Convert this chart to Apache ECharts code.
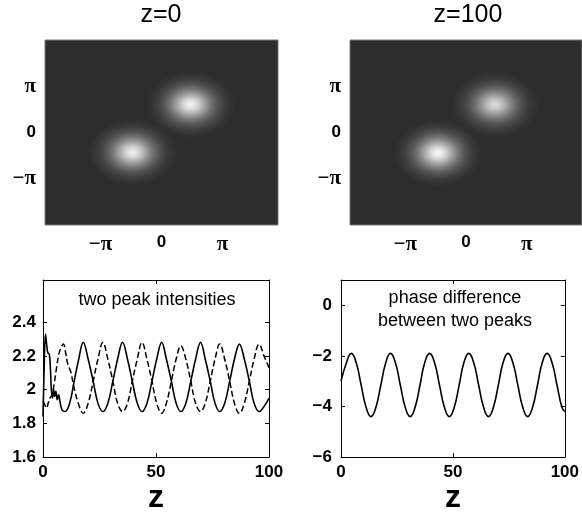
<!DOCTYPE html>
<html>
<head>
<meta charset="utf-8">
<title>two peaks</title>
<script src="https://cdn.jsdelivr.net/npm/echarts@6/dist/echarts.min.js"></script>
<style>
    html, body {margin: 0; padding: 0; background: #fff;}
    #main {width: 582px; height: 515px;}
</style>
</head>
<body>
<div id="main"></div>
<script>
var panelTitles = ['z=0', 'z=100'];
var piTicks = [-Math.PI, 0, Math.PI];
var piLabels = ['\u2212\u03c0', '0', '\u03c0'];

// blob centres: [x, y, brightness]
var blobsZ0 = [[1.5, 1.9, 0.95], [-1.5, -1.35, 0.93]];
var blobsZ100 = [[1.5, 1.9, 0.85], [-1.45, -1.4, 0.97]];

var zTicks = [0, 50, 100];
var intensityTicks = [1.6, 1.8, 2, 2.2, 2.4];
var phaseTicks = [-6, -4, -2, 0];

// solid curve
var peak1 = [
    [0, 1.84], [0.5, 2.12], [1.1, 2.33], [1.6, 2.27], [2.1, 2.22], [2.8, 2.21], [3.3, 2.12], [3.7, 2.0],
    [4.2, 1.95], [4.7, 2.0], [5.2, 1.96], [5.7, 1.99], [6.3, 1.94], [6.9, 1.97], [7.5, 1.93], [8.4, 1.88],
    [9.8, 1.87], [11.8, 1.92], [13.8, 2.05], [15.8, 2.18], [17.8, 2.28], [20.0, 2.18], [22.2, 2.05],
    [24.3, 1.92], [26.5, 1.87], [28.7, 1.92], [30.9, 2.05], [33.0, 2.18], [35.2, 2.28], [37.4, 2.18],
    [39.5, 2.05], [41.7, 1.92], [43.8, 1.87], [46.0, 1.92], [48.2, 2.05], [50.3, 2.18], [52.5, 2.28],
    [54.6, 2.18], [56.8, 2.05], [58.9, 1.92], [61.0, 1.87], [63.2, 1.92], [65.4, 2.05], [67.5, 2.18],
    [69.7, 2.28], [71.8, 2.18], [74.0, 2.05], [76.1, 1.92], [78.2, 1.87], [80.4, 1.92], [82.6, 2.05],
    [84.7, 2.18], [86.9, 2.27], [89.1, 2.18], [91.3, 2.05], [93.4, 1.92], [95.6, 1.87], [97.8, 1.90],
    [100, 1.95]
];

// dashed curve
var peak2 = [
    [0, 1.93], [0.8, 1.91], [1.5, 1.89], [2.3, 1.92], [3.1, 1.95], [4.0, 1.97], [5.0, 2.04], [6.0, 2.13],
    [7.0, 2.21], [8.0, 2.25], [9.0, 2.27], [10.0, 2.22], [10.8, 2.16], [11.6, 2.13], [12.4, 2.1],
    [13.6, 2.02], [15.6, 1.92], [17.8, 1.86], [20.0, 1.92], [22.2, 2.05], [24.3, 2.18], [26.5, 2.28],
    [28.7, 2.18], [30.9, 2.05], [33.0, 1.92], [35.2, 1.87], [37.4, 1.92], [39.5, 2.05], [41.7, 2.18],
    [43.8, 2.28], [46.0, 2.18], [48.2, 2.05], [50.3, 1.92], [52.5, 1.86], [54.6, 1.92], [56.8, 2.05],
    [58.9, 2.18], [61.0, 2.26], [63.2, 2.18], [65.4, 2.05], [67.5, 1.92], [69.7, 1.87], [71.8, 1.92],
    [74.0, 2.05], [76.1, 2.18], [78.2, 2.27], [80.4, 2.18], [82.6, 2.05], [84.7, 1.92], [86.9, 1.86],
    [89.1, 1.92], [91.3, 2.05], [93.4, 2.18], [95.6, 2.27], [97.8, 2.2], [100, 2.13]
];

var phaseDiff = [
    [0, -3.0], [2.4, -2.28], [4.6, -1.9], [6.8, -2.27], [9.0, -3.15], [11.2, -4.03], [13.4, -4.4],
    [15.6, -4.03], [17.8, -3.15], [20.0, -2.27], [22.1, -1.9], [24.3, -2.27], [26.5, -3.15], [28.7, -4.03],
    [30.9, -4.4], [33.1, -4.03], [35.3, -3.15], [37.4, -2.27], [39.6, -1.9], [41.8, -2.27], [44.0, -3.15],
    [46.2, -4.03], [48.4, -4.4], [50.6, -4.03], [52.8, -3.15], [54.9, -2.27], [57.1, -1.9], [59.3, -2.27],
    [61.5, -3.15], [63.7, -4.03], [65.9, -4.4], [68.1, -4.03], [70.3, -3.15], [72.4, -2.27], [74.6, -1.9],
    [76.8, -2.27], [79.0, -3.15], [81.2, -4.03], [83.4, -4.4], [85.6, -4.03], [87.8, -3.15], [89.9, -2.27],
    [92.1, -1.9], [94.3, -2.27], [96.5, -3.15], [98.7, -4.03], [100, -4.2]
];

var sans = '"Liberation Sans", Arial, sans-serif';
var blobRadius = 2.3;
var glow = [[0, 1], [0.07, 0.96], [0.18, 0.82], [0.32, 0.58], [0.46, 0.36], [0.6, 0.2], [0.75, 0.09], [0.88, 0.03], [1, 0]];

var blobGradient = function (b) {
    var l = Math.round(255 * b);
    var stops = [];
    for (var i = 0; i < glow.length; i++) {
        stops.push({offset: glow[i][0], color: 'rgba(' + l + ',' + l + ',' + l + ',' + glow[i][1] + ')'});
    }
    return new echarts.graphic.RadialGradient(0.5, 0.5, 0.5, stops);
};

var renderBlob = function (params, api) {
    var c = api.coord([api.value(0), api.value(1)]);
    var s = api.size([blobRadius * 2, blobRadius * 2]);
    return {
        type: 'circle',
        x: c[0],
        y: c[1],
        scaleY: s[1] / s[0],
        shape: {cx: 0, cy: 0, r: s[0] / 2},
        style: {fill: blobGradient(api.value(2))}
    };
};

var piFormatter = function (v) {
    var best = 0;
    for (var i = 0; i < piTicks.length; i++) {
        if (Math.abs(piTicks[i] - v) < Math.abs(piTicks[best] - v)) best = i;
    }
    return best == 1 ? piLabels[best] : '{p|' + piLabels[best] + '}';
};

var piAxis = function (idx, isX) {
    return {
        type: 'value', gridIndex: idx,
        min: isX ? -6 : -6.3, max: isX ? 6 : 6.3,
        axisLine: {show: false}, axisTick: {show: false}, splitLine: {show: false},
        axisLabel: {
            customValues: piTicks, formatter: piFormatter, margin: isX ? 9 : 9,
            color: '#000', fontFamily: sans, fontWeight: 'bold', fontSize: 17,
            rich: {p: {fontFamily: '"Liberation Serif", serif', fontWeight: 'bold', fontSize: 21, color: '#000'}}
        }
    };
};

var boxLine = {show: true, onZero: false, lineStyle: {color: '#000', width: 1}};
var labelStyle = {color: '#000', fontFamily: sans, fontWeight: 'bold', fontSize: 17};

var zAxis = function (idx, top) {
    var ax = {
        type: 'value', gridIndex: idx, min: 0, max: 100, interval: 50,
        position: top ? 'top' : 'bottom',
        axisLine: boxLine,
        axisTick: {inside: true, length: 4, lineStyle: {color: '#000'}},
        splitLine: {show: false},
        axisLabel: top ? {show: false} : Object.assign({margin: 7}, labelStyle)
    };
    if (!top) {
        ax.name = 'z';
        ax.nameLocation = 'middle';
        ax.nameGap = 18;
        ax.nameTextStyle = {color: '#000', fontFamily: sans, fontWeight: 'bold', fontSize: 32};
    }
    return ax;
};

var valAxis = function (idx, right, min, max, ticks, margin) {
    return {
        type: 'value', gridIndex: idx, min: min, max: max,
        position: right ? 'right' : 'left',
        axisLine: boxLine,
        axisTick: {inside: true, length: 4, customValues: ticks, lineStyle: {color: '#000'}},
        splitLine: {show: false},
        axisLabel: right ? {show: false} : Object.assign({
            margin: margin, customValues: ticks,
            formatter: function (v) { return String(+v.toFixed(2)).replace('-', '\u2212'); }
        }, labelStyle)
    };
};

var titleText = function (x, y, text, size, lh) {
    return {
        type: 'text', x: x, y: y,
        style: {
            text: text, fill: '#000', font: size + 'px ' + sans, lineHeight: lh || size,
            align: 'center', verticalAlign: 'middle', textAlign: 'center', textVerticalAlign: 'middle'
        }
    };
};

var chart = echarts.init(document.getElementById('main'), null, {renderer: 'canvas'});

var option = {
    backgroundColor: '#fff',
    animation: false,
    graphic: [
        titleText(161, 15, panelTitles[0], 25),
        titleText(468, 15, panelTitles[1], 25),
        titleText(157, 300, 'two peak intensities', 18),
        titleText(455, 310, 'phase difference\nbetween two peaks', 18, 23)
    ],
    grid: [
        {left: 45, top: 40, width: 233, height: 185, show: true, backgroundColor: '#2d2d2d', borderColor: '#7a7a7a', borderWidth: 1},
        {left: 350, top: 40, width: 234, height: 185, show: true, backgroundColor: '#2d2d2d', borderColor: '#7a7a7a', borderWidth: 1},
        {left: 43, top: 280, width: 226, height: 178},
        {left: 341, top: 280, width: 226, height: 178}
    ],
    xAxis: [
        piAxis(0, true), piAxis(1, true),
        zAxis(2, false), zAxis(3, false),
        zAxis(2, true), zAxis(3, true)
    ],
    yAxis: [
        piAxis(0, false), piAxis(1, false),
        valAxis(2, false, 1.6, 2.65, intensityTicks, 7),
        valAxis(3, false, -6, 1, phaseTicks, 9),
        valAxis(2, true, 1.6, 2.65, intensityTicks),
        valAxis(3, true, -6, 1, phaseTicks)
    ],
    series: [
        {type: 'custom', xAxisIndex: 0, yAxisIndex: 0, clip: true, renderItem: renderBlob, data: blobsZ0},
        {type: 'custom', xAxisIndex: 1, yAxisIndex: 1, clip: true, renderItem: renderBlob, data: blobsZ100},
        {
            type: 'line', xAxisIndex: 2, yAxisIndex: 2, data: peak2, showSymbol: false, smooth: 0.4,
            lineStyle: {color: '#000', width: 1.5, type: [6, 3]}
        },
        {
            type: 'line', xAxisIndex: 2, yAxisIndex: 2, data: peak1, showSymbol: false, smooth: 0.4,
            lineStyle: {color: '#000', width: 1.6}
        },
        {
            type: 'line', xAxisIndex: 3, yAxisIndex: 3, data: phaseDiff, showSymbol: false, smooth: 0.5,
            lineStyle: {color: '#000', width: 1.6}
        }
    ]
};
chart.setOption(option);
</script>
</body>
</html>
